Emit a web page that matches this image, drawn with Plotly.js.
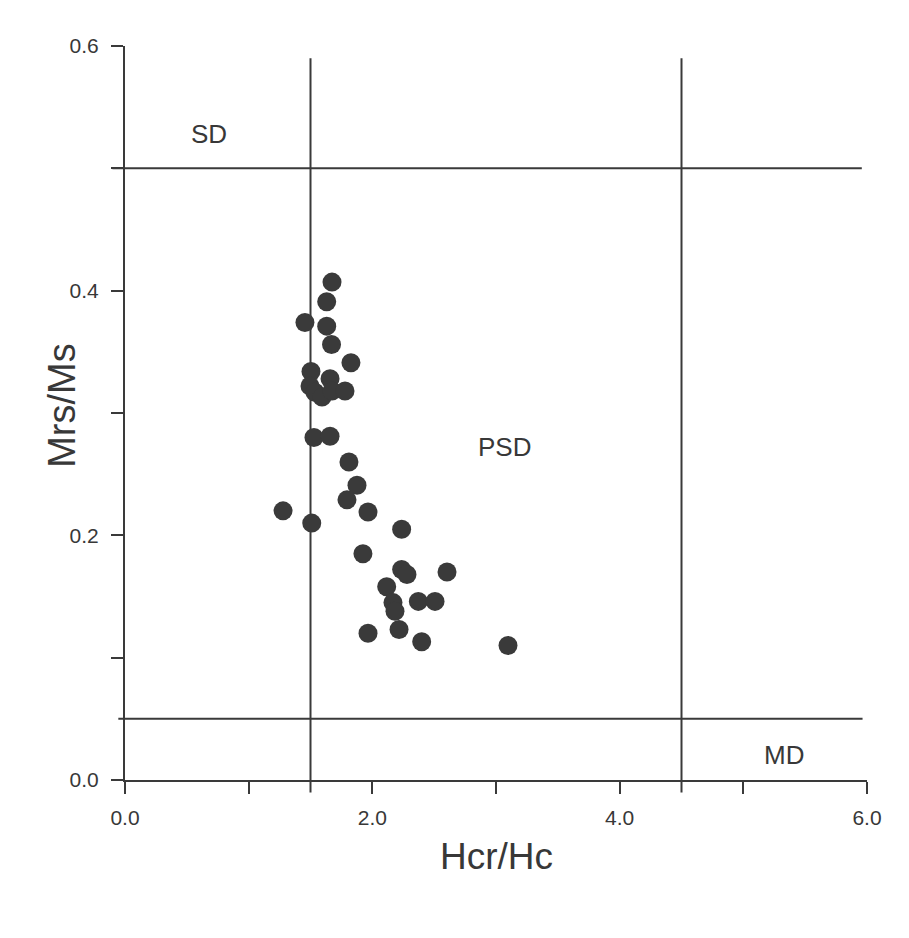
<!DOCTYPE html>
<html>
<head>
<meta charset="utf-8">
<script src="https://cdn.plot.ly/plotly-3.0.1.min.js"></script>
<style>html,body{margin:0;padding:0;background:#fff;}#chart{width:909px;height:938px;}</style>
</head>
<body>
<div id="chart"></div>
<script>
// Sample data: Hcr/Hc (x) and Mrs/Ms (y)
var hcrHc = [1.674, 1.631, 1.455, 1.631, 1.670, 1.827, 1.504, 1.658, 1.496, 1.536, 1.593, 1.674, 1.779,
             1.528, 1.658, 1.811, 1.876, 1.795, 1.278, 1.965, 1.510, 2.237, 1.924, 2.237, 2.280, 2.604,
             2.116, 2.167, 2.183, 2.372, 2.507, 1.965, 2.216, 2.399, 3.097];
var mrsMs = [0.407, 0.391, 0.374, 0.371, 0.356, 0.341, 0.334, 0.328, 0.322, 0.317, 0.313, 0.318, 0.318,
             0.280, 0.281, 0.260, 0.241, 0.229, 0.220, 0.219, 0.210, 0.205, 0.185, 0.172, 0.168, 0.170,
             0.158, 0.145, 0.138, 0.146, 0.146, 0.120, 0.123, 0.113, 0.110];

// Domain boundaries
var hcrBounds = [1.5, 4.5];
var mrsBounds = [0.5, 0.05];
var vTop = 0.59;          // top of the vertical boundary lines (data units)

// Region labels
var regionNames = ['SD', 'PSD', 'MD'];
var regionX = [0.68, 3.07, 5.33];
var regionY = [0.528, 0.272, 0.0204];

var xTicks = [0, 1, 2, 3, 4, 5, 6];
var xTickText = ['0.0', '', '2.0', '', '4.0', '', '6.0'];
var yTicks = [0, 0.1, 0.2, 0.3, 0.4, 0.5, 0.6];
var yTickText = ['0.0', '', '0.2', '', '0.4', '', '0.6'];

var xTitle = 'Hcr/Hc';
var yTitle = 'Mrs/Ms';

var lineColor = '#3a3a3a';
var textColor = '#383838';
var fam = 'Liberation Sans, Arial, sans-serif';
var xRange = [0, 6], yRange = [0, 0.6];

var shapes = [];
hcrBounds.forEach(function (v) {
  shapes.push({type: 'line', xref: 'x', yref: 'paper', x0: v, x1: v,
    y0: -0.017, y1: vTop / yRange[1], line: {color: lineColor, width: 2}});
});
shapes.push({type: 'line', xref: 'paper', yref: 'y', x0: -0.017, x1: 0.993,
  y0: mrsBounds[0], y1: mrsBounds[0], line: {color: lineColor, width: 2}});
shapes.push({type: 'line', xref: 'paper', yref: 'y', x0: -0.009, x1: 0.994,
  y0: mrsBounds[1], y1: mrsBounds[1], line: {color: lineColor, width: 2}});

var annotations = regionNames.map(function (t, i) {
  return {x: regionX[i], y: regionY[i], xref: 'x', yref: 'y', text: t, showarrow: false,
    font: {family: fam, size: 26, color: textColor}};
});
annotations.push({xref: 'paper', yref: 'paper', x: 0.5, y: -0.104, text: xTitle,
  showarrow: false, xanchor: 'center', yanchor: 'middle',
  font: {family: fam, size: 37, color: textColor}});
annotations.push({xref: 'paper', yref: 'paper', x: -0.085, y: 0.511, text: yTitle,
  showarrow: false, xanchor: 'center', yanchor: 'middle', textangle: -90,
  font: {family: fam, size: 38, color: textColor}});

var trace = {
  x: hcrHc, y: mrsMs, type: 'scatter', mode: 'markers',
  marker: {size: 19, color: '#3a3a3a', line: {width: 0}},
  cliponaxis: false, hoverinfo: 'x+y'
};

var layout = {
  width: 909, height: 938,
  margin: {l: 125, r: 42, t: 46, b: 158},
  paper_bgcolor: '#ffffff', plot_bgcolor: '#ffffff',
  showlegend: false,
  font: {family: fam, color: textColor},
  xaxis: {
    range: xRange, showgrid: false, zeroline: false, showline: true,
    linecolor: lineColor, linewidth: 2, ticks: 'outside', ticklen: 12, tickwidth: 2,
    tickcolor: lineColor, tickvals: xTicks, ticktext: xTickText,
    tickfont: {size: 21, color: textColor}, ticklabelstandoff: 6
  },
  yaxis: {
    range: yRange, showgrid: false, zeroline: false, showline: true,
    linecolor: lineColor, linewidth: 2, ticks: 'outside', ticklen: 12, tickwidth: 2,
    tickcolor: lineColor, tickvals: yTicks, ticktext: yTickText,
    tickfont: {size: 21, color: textColor}, ticklabelstandoff: 8
  },
  shapes: shapes,
  annotations: annotations
};

Plotly.newPlot('chart', [trace], layout, {displayModeBar: false, staticPlot: true});
</script>
</body>
</html>
